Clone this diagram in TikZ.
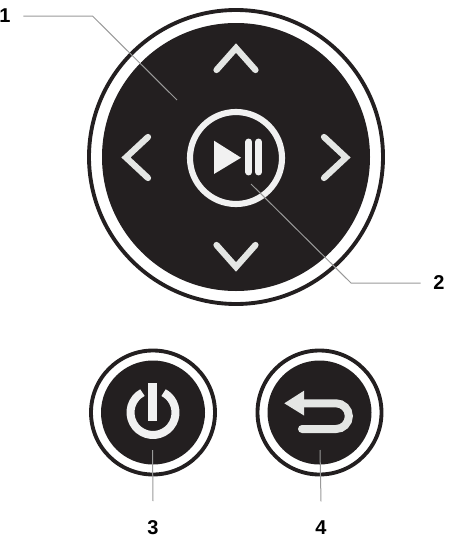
\documentclass[tikz,border=0pt]{standalone}
\usepackage{fontspec}
\setmainfont{Liberation Sans}
\definecolor{keyblack}{HTML}{231F20}
\definecolor{keywhite}{HTML}{F1F1F1}
\definecolor{keygrey}{HTML}{E4E6E4}
\definecolor{leadgrey}{HTML}{999999}
\tikzset{
  leader/.style={draw=leadgrey, line width=0.75pt, line cap=butt, line join=miter},
  chevron/.style={draw=keygrey, line width=4.7pt, line cap=round, line join=miter},
  keyring/.style={draw=keyblack, line width=2.9pt},
  keydisc/.style={fill=keyblack},
  numlabel/.style={font=\bfseries\fontsize{15}{15}\selectfont, text=black}
}
\begin{document}
\begin{tikzpicture}[x=0.75pt,y=-0.75pt,line cap=round]
  \useasboundingbox (0,0) rectangle (462,539);
  % main pad
  \draw[keyring] (236,157) circle (147);
  \fill[keydisc] (236,157) circle (134);
  \draw[chevron] (216.5,70) -- (236,48) -- (255.5,70);
  \draw[chevron] (216.5,245) -- (236,267) -- (255.5,245);
  \draw[chevron] (148,137) -- (126,157.5) -- (148,178);
  \draw[chevron] (324,137) -- (346,157.5) -- (324,178);
  % play button
  \draw[draw=keywhite, line width=4.6pt] (236,158) circle (46);
  \fill[keywhite] (214,140.7) -- (241,157.7) -- (214,174) -- cycle;
  \draw[draw=keywhite, line width=5.2pt] (248.8,142) -- (248.8,172);
  \draw[draw=keywhite, line width=5.2pt] (258.5,142) -- (258.5,172);
  % power key
  \draw[keyring] (153,412.5) circle (62);
  \fill[keydisc] (153,412.5) circle (52);
  \draw[draw=keywhite, line width=6pt, line cap=butt] (142.44,392.63) arc (242:-62:22.5);
  \fill[keywhite] (148.3,382.7) rectangle (157.3,421);
  % back key
  \draw[keyring] (319.5,412.5) circle (62);
  \fill[keydisc] (319.5,412.5) circle (52);
  \fill[keygrey] (284.3,403.3) -- (304,390.7) -- (304,415.5) -- cycle;
  \draw[draw=keygrey, line width=6pt] (302,429) -- (336,429) arc (90:-90:12.85) -- (304,403.3);
  % callouts
  \node[numlabel, inner sep=9.5pt] (lab1) at (5,16) {1};
  \node[numlabel, inner sep=9.5pt] (lab2) at (439,283) {2};
  \node[numlabel, inner sep=14.6pt] (lab3) at (153,528) {3};
  \node[numlabel, inner sep=14.6pt] (lab4) at (321,528) {4};
  \coordinate (bend1) at (92.5,16);
  \coordinate (tip1) at (177,100);
  \coordinate (bend2) at (351,283);
  \coordinate (tip2) at (251,184);
  \coordinate (tip3) at (152.5,450);
  \coordinate (tip4) at (320,450);
  \draw[leader] (lab1.east) -- (bend1) -- (tip1);
  \draw[leader] (lab2.west) -- (bend2) -- (tip2);
  \draw[leader] (lab3.north) -- (tip3);
  \draw[leader] (lab4.north) -- (tip4);
\end{tikzpicture}
\end{document}
